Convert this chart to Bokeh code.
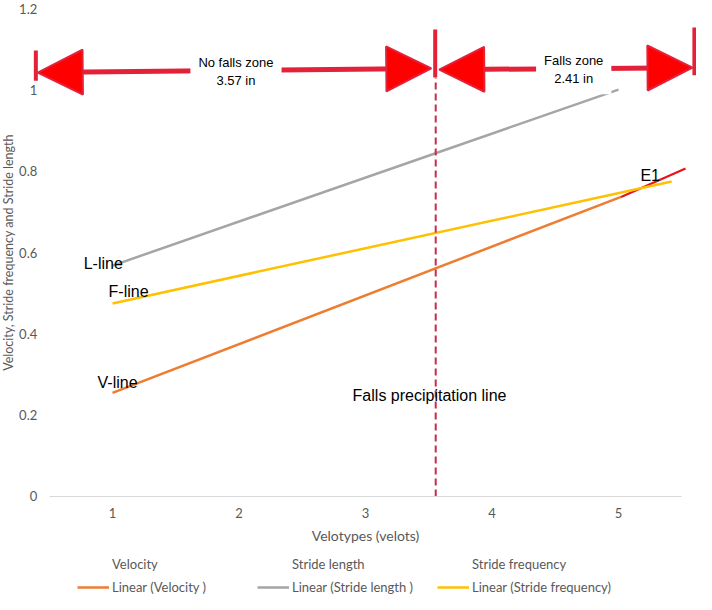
from bokeh.plotting import figure
from bokeh.models import (Arrow, NormalHead, Label, Legend, LegendItem,
                          ColumnDataSource, FixedTicker, Whisker)
from bokeh.core.properties import value
from bokeh.embed import file_html
from bokeh.resources import INLINE

# ---------------- data ----------------
x_ticks = [1, 2, 3, 4, 5]
y_ticks = [0, 0.2, 0.4, 0.6, 0.8, 1.0, 1.2]
x_axis_extent = (0.5, 5.5)
y_axis_extent = (0, 1.2)

velocity_x = [1.0, 5.02]
velocity_y = [0.255, 0.737]
velocity_ext_x = [5.02, 5.53]
velocity_ext_y = [0.737, 0.807]
length_x = [1.0, 5.0]
length_y = [0.568, 1.001]
freq_x = [1.0, 5.42]
freq_y = [0.475, 0.775]

fall_x = [3.555, 3.555]
fall_y = [0.0, 1.03]

zone_x0 = [0.409, 3.583]
zone_x1 = [3.520, 5.585]
zone_y0 = [1.043, 1.050]
zone_y1 = [1.053, 1.055]
zone_text = ["No falls zone\n3.57 in", "Falls zone\n2.41 in"]
zone_text_x = [1.976, 4.646]
zone_text_y = [1.045, 1.050]

bar_x = [0.394, 3.551, 5.600]
bar_lo = [1.023, 1.031, 1.036]
bar_hi = [1.097, 1.149, 1.154]

note_text = ["L-line", "F-line", "V-line", "E1", "Falls precipitation line"]
note_x = [0.772, 0.969, 0.882, 5.173, 2.898]
note_y = [0.573, 0.504, 0.280, 0.790, 0.248]

series_names = ["Velocity", "Stride length", "Stride frequency"]
trend_names = ["Linear (Velocity )", "Linear (Stride length )", "Linear (Stride frequency)"]
colors = ["#ED7D31", "#A5A5A5", "#FFC000"]

RED = "#E3223A"
GREY_TXT = "#595959"

# ---------------- figure ----------------
# the frame fills the whole canvas; axes are pinned inside it
p = figure(width=696, height=594, x_range=(0.1146, 5.6166), y_range=(-0.2411, 1.2202),
           output_backend="svg", toolbar_location=None,
           min_border_left=0, min_border_right=0, min_border_top=0,
           min_border_bottom=0, outline_line_color=None)
p.xgrid.visible = False
p.ygrid.visible = False

p.xaxis.ticker = FixedTicker(ticks=x_ticks)
p.yaxis.ticker = FixedTicker(ticks=y_ticks)
p.yaxis.major_label_overrides = {0: "0", 1.0: "1", 1.2: "1.2"}
for ax in (p.xaxis[0], p.yaxis[0]):
    ax.major_tick_line_color = None
    ax.minor_tick_line_color = None
    ax.major_label_text_font = "Lato"
    ax.major_label_text_font_size = "13px"
    ax.major_label_text_color = GREY_TXT
    ax.axis_label_text_font = "Lato"
    ax.axis_label_text_font_style = "normal"
    ax.axis_label_text_color = GREY_TXT
p.xaxis.fixed_location = y_axis_extent[0]
p.xaxis.bounds = x_axis_extent
p.xaxis.axis_line_color = "#D9D9D9"
p.xaxis.major_label_standoff = 6
p.xaxis.axis_label = "Velotypes (velots)"
p.xaxis.axis_label_text_font_size = "14px"
p.xaxis.axis_label_standoff = 5
p.yaxis.fixed_location = x_axis_extent[0]
p.yaxis.bounds = y_axis_extent
p.yaxis.axis_line_color = None
p.yaxis.major_label_standoff = 6
p.yaxis.axis_label = "Velocity, Stride frequency and Stride length"
p.yaxis.axis_label_text_font_size = "12.5px"
p.yaxis.axis_label_standoff = 0

# invisible data series (markers hidden, as in the original)
hidden = [p.scatter([], [], size=0, alpha=0) for _ in series_names]

# trend lines
r_vel = p.line(velocity_x, velocity_y, line_color=colors[0], line_width=2.5)
p.line(velocity_ext_x, velocity_ext_y, line_color="#E8141C", line_width=2.2)
r_len = p.line(length_x, length_y, line_color=colors[1], line_width=2.5)
r_freq = p.line(freq_x, freq_y, line_color=colors[2], line_width=2.5)

# falls precipitation line
p.line(fall_x, fall_y, line_color="#CC2A4A", line_width=2, line_dash="7 4")

# text notes
p.text(x=note_x, y=note_y, text=note_text, text_font=value("Liberation Sans"),
       text_font_size="16px", text_color="black", text_align="left",
       text_baseline="middle")

# zone arrows
for x0, x1, y0, y1 in zip(zone_x0, zone_x1, zone_y0, zone_y1):
    p.add_layout(Arrow(x_start=x0, x_end=x1, y_start=y0, y_end=y1,
                       line_color=RED, line_width=5,
                       start=NormalHead(size=45, fill_color="#FF0000",
                                        line_color=RED, line_width=2),
                       end=NormalHead(size=45, fill_color="#FF0000",
                                      line_color=RED, line_width=2)))

bars = ColumnDataSource(dict(base=bar_x, lower=bar_lo, upper=bar_hi))
p.add_layout(Whisker(source=bars, base="base", lower="lower", upper="upper",
                     dimension="height", lower_head=None, upper_head=None,
                     line_color=RED, line_width=4))

for t, x, y in zip(zone_text, zone_text_x, zone_text_y):
    p.add_layout(Label(x=x, y=y, text=t, text_align="center",
                       text_baseline="middle", text_font="Liberation Sans",
                       text_font_size="13px", text_color="black",
                       background_fill_color="white", padding=8))

# legend
items = [LegendItem(label=n, renderers=[r]) for n, r in zip(series_names, hidden)]
items += [LegendItem(label=n, renderers=[r])
          for n, r in zip(trend_names, [r_vel, r_len, r_freq])]
legend = Legend(items=items, location=(77, -1), ncols=3, orientation="horizontal",
                border_line_color=None, background_fill_alpha=0,
                padding=0, margin=0, spacing=7,
                glyph_width=32, glyph_height=14, label_standoff=3,
                label_width=138, label_height=14,
                label_text_font="Lato", label_text_font_size="13px",
                label_text_color=GREY_TXT)
p.add_layout(legend, "center")

open("out.html", "w").write(file_html(p, INLINE))
